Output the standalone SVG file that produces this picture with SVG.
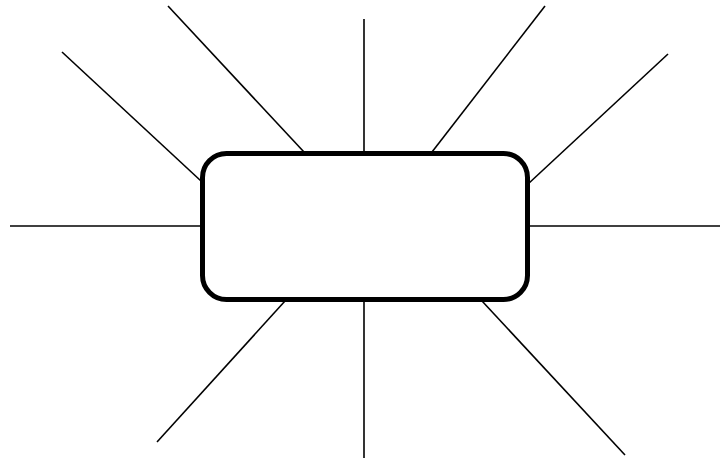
<svg xmlns="http://www.w3.org/2000/svg" width="721" height="459" viewBox="0 0 721 459">
<style>
.c line { stroke: #000; stroke-width: 1.6; }
.box { fill: #fff; stroke: #000; stroke-width: 5; }
</style>
<rect width="721" height="459" fill="#fff"/>
<g id="connectors" class="c">
<line x1="62" y1="52" x2="201" y2="181"/>
<line x1="168" y1="6" x2="304" y2="152"/>
<line x1="364" y1="19" x2="364" y2="152"/>
<line x1="545" y1="6" x2="432" y2="152"/>
<line x1="668" y1="54" x2="528" y2="184"/>
<line x1="10" y1="226" x2="202" y2="226"/>
<line x1="528" y1="226" x2="720" y2="226"/>
<line x1="285" y1="301" x2="157" y2="442"/>
<line x1="364" y1="301" x2="364" y2="458"/>
<line x1="482" y1="301" x2="625" y2="455"/>
</g>
<g id="center">
<rect class="box" x="202.5" y="153.5" width="325" height="146" rx="24" ry="24"/>
</g>
</svg>
